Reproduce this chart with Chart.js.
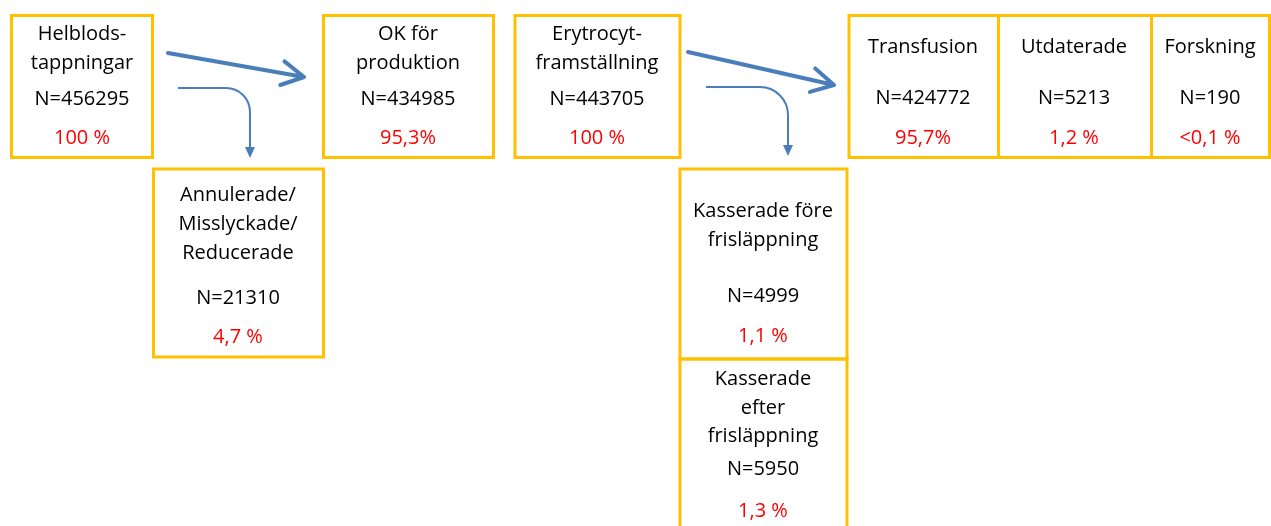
<!DOCTYPE html>
<html>
<head>
<meta charset="utf-8">
<script src="https://cdn.jsdelivr.net/npm/chart.js@4.4.1/dist/chart.umd.min.js"></script>
<style>
  html, body { margin: 0; padding: 0; background: #ffffff; }
  #wrap { width: 1271px; height: 526px; position: relative; }
</style>
</head>
<body>
<div id="wrap"><canvas id="c" width="1271" height="526"></canvas></div>
<script>
// ---- data ----
const nodeTitles = [
  ["Helblods-", "tappningar"],
  ["OK för", "produktion"],
  ["Erytrocyt-", "framställning"],
  ["Transfusion"],
  ["Utdaterade"],
  ["Forskning"],
  ["Annulerade/", "Misslyckade/", "Reducerade"],
  ["Kasserade före", "frisläppning"],
  ["Kasserade", "efter", "frisläppning"]
];
const nodeCounts = [456295, 434985, 443705, 424772, 5213, 190, 21310, 4999, 5950];
const nodeShares = ["100 %", "95,3%", "100 %", "95,7%", "1,2 %", "<0,1 %", "4,7 %", "1,1 %", "1,3 %"];

// ---- layout (diagram coordinates, mapped through the chart scales) ----
const boxes = [
  { x0: 11.5, x1: 152.5, y0: 15.5, y1: 157.5 },
  { x0: 323.5, x1: 493.5, y0: 15.5, y1: 157.5 },
  { x0: 515, x1: 680, y0: 15.5, y1: 157.5 },
  { x0: 849, x1: 998.5, y0: 15.5, y1: 157.5 },
  { x0: 998.5, x1: 1151.5, y0: 15.5, y1: 157.5 },
  { x0: 1151.5, x1: 1269.5, y0: 15.5, y1: 157.5 },
  { x0: 153.5, x1: 323.5, y0: 169, y1: 357 },
  { x0: 680, x1: 847, y0: 169, y1: 359 },
  { x0: 680, x1: 847, y0: 359, y1: 540 }
];
const textPos = [
  { cx: 82, title: [34, 63], n: 99, p: 138 },
  { cx: 408, title: [34, 63], n: 99, p: 138 },
  { cx: 597, title: [34, 63], n: 99, p: 138 },
  { cx: 923, title: [47], n: 98, p: 138 },
  { cx: 1074, title: [47], n: 98, p: 138 },
  { cx: 1210, title: [47], n: 98, p: 138 },
  { cx: 238, title: [195, 224, 253], n: 298, p: 337 },
  { cx: 763, title: [211, 240], n: 296, p: 336 },
  { cx: 763, title: [379, 408, 436], n: 469, p: 511 }
];
const straightArrows = [
  { x0: 168, y0: 53, x1: 304, y1: 77 },
  { x0: 688, y0: 52, x1: 834, y1: 85 }
];
const bentArrows = [
  { x0: 178, y: 88, xc: 226, r: 24, tip: 158 },
  { x0: 706, y: 87, xc: 760, r: 28, tip: 156 }
];

const BORDER = '#FFC000';
const BLUE = '#4A7EBB';
const RED = '#FF0000';
const FONT = '20px "Open Sans", Lato, sans-serif';

const diagramPlugin = {
  id: 'diagram',
  afterDatasetsDraw(chart) {
    const ctx = chart.ctx;
    const sx = v => chart.scales.x.getPixelForValue(v);
    const sy = v => chart.scales.y.getPixelForValue(v);
    ctx.save();
    // boxes
    ctx.strokeStyle = BORDER;
    ctx.lineWidth = 3;
    boxes.forEach(b => {
      ctx.strokeRect(sx(b.x0), sy(b.y0), sx(b.x1) - sx(b.x0), sy(b.y1) - sy(b.y0));
    });
    // text
    ctx.font = FONT;
    ctx.textAlign = 'center';
    ctx.textBaseline = 'middle';
    nodeTitles.forEach((lines, i) => {
      const t = textPos[i];
      ctx.fillStyle = '#000000';
      lines.forEach((ln, k) => ctx.fillText(ln, sx(t.cx), sy(t.title[k])));
      ctx.fillText('N=' + nodeCounts[i], sx(t.cx), sy(t.n));
      ctx.fillStyle = RED;
      ctx.fillText(nodeShares[i], sx(t.cx), sy(t.p));
    });
    // straight thick arrows with open heads
    ctx.strokeStyle = BLUE;
    ctx.lineCap = 'round';
    ctx.lineJoin = 'round';
    straightArrows.forEach(a => {
      const x0 = sx(a.x0), y0 = sy(a.y0), x1 = sx(a.x1), y1 = sy(a.y1);
      const ang = Math.atan2(y1 - y0, x1 - x0);
      ctx.lineWidth = 4;
      ctx.beginPath();
      ctx.moveTo(x0, y0);
      ctx.lineTo(x1, y1);
      const L = 25, da = 0.5;
      ctx.moveTo(x1 - L * Math.cos(ang - da), y1 - L * Math.sin(ang - da));
      ctx.lineTo(x1, y1);
      ctx.lineTo(x1 - L * Math.cos(ang + da), y1 - L * Math.sin(ang + da));
      ctx.stroke();
    });
    // bent thin arrows
    ctx.lineCap = 'butt';
    bentArrows.forEach(a => {
      const xv = a.xc + a.r;
      ctx.lineWidth = 2;
      ctx.beginPath();
      ctx.moveTo(sx(a.x0), sy(a.y));
      ctx.lineTo(sx(a.xc), sy(a.y));
      ctx.arc(sx(a.xc), sy(a.y + a.r), a.r, -Math.PI / 2, 0);
      ctx.lineTo(sx(xv), sy(a.tip - 10));
      ctx.stroke();
      ctx.fillStyle = BLUE;
      ctx.beginPath();
      ctx.moveTo(sx(xv - 5), sy(a.tip - 11));
      ctx.lineTo(sx(xv + 5), sy(a.tip - 11));
      ctx.lineTo(sx(xv), sy(a.tip));
      ctx.closePath();
      ctx.fill();
    });
    ctx.restore();
  }
};

new Chart(document.getElementById('c'), {
  type: 'scatter',
  data: {
    datasets: [{
      label: 'nodes',
      data: textPos.map((t, i) => ({ x: t.cx, y: t.n, v: nodeCounts[i] })),
      pointRadius: 0,
      pointHoverRadius: 0
    }]
  },
  options: {
    responsive: false,
    animation: false,
    events: [],
    layout: { padding: 0 },
    plugins: { legend: { display: false }, tooltip: { enabled: false } },
    scales: {
      x: { type: 'linear', min: 0, max: 1271, display: false },
      y: { type: 'linear', min: 0, max: 526, reverse: true, display: false }
    }
  },
  plugins: [diagramPlugin]
});
</script>
</body>
</html>
